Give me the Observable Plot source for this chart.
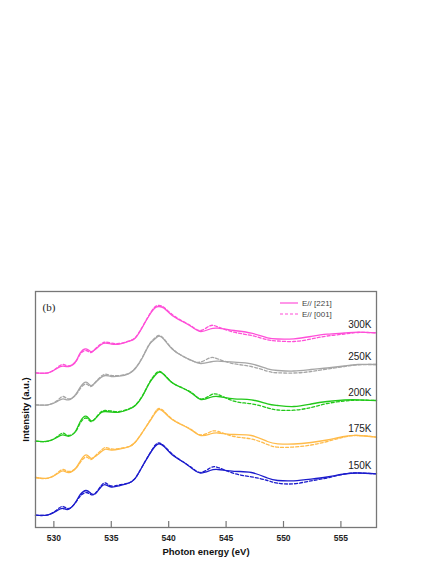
<!DOCTYPE html>
<html><head><meta charset="utf-8">
<script src="https://cdn.jsdelivr.net/npm/d3@7"></script>
<script src="https://cdn.jsdelivr.net/npm/@observablehq/plot@0.6"></script>
<style>
body{margin:0;background:#fff;}
#wrap{position:relative;width:436px;height:564px;}
#wrap svg{display:block;}
[aria-label="x-axis tick label"] text{font-weight:bold;font-size:8.5px;fill:#222;}
[aria-label="x-axis label"] text,[aria-label="y-axis label"] text{font-weight:bold;font-size:9.5px;fill:#111;}
#legend{position:absolute;left:280px;top:298px;font:8px "Liberation Sans",Arial,sans-serif;color:#444;}
#legend .row{display:flex;align-items:center;height:10.7px;}
#legend svg{margin-right:4px;}
</style></head><body><div id="wrap"></div>
<script>
const energy = [528.4,529.5,530.3,530.8,531.3,531.9,532.3,532.8,533.2,533.6,534.1,534.5,535.0,535.7,536.5,537.1,537.7,538.3,538.8,539.15,539.6,540.3,541.2,542.1,542.8,543.6,544.3,545.7,547.2,548.6,549.5,550.9,552.4,553.8,555.3,556.5,558.1];
const temps = ["150K","175K","200K","250K","300K"];
const tempColors = ["#1c1ccc","#ffbb4a","#22c81a","#a6a6a6","#ff4fd8"];
const polarizations = ["E// [221]","E// [001]"];
const xTicks = [530,535,540,545,550,555];

// intensity (a.u., vertically offset spectra)
const e221_150K = [12.3,12.7,17,19,18.3,25.5,33,37,34.3,33.7,40.5,42.7,40.5,41.7,44.3,49.3,61,72.7,81,83.7,81,72.7,66,58.5,54.5,57,58,56.2,55,49.5,47,46.7,48.3,50.5,53.5,54.5,53.7];
const e001_150K = [12.3,12.7,18,21,19,25,31.5,35,33,34,41.5,44.5,41.5,42.5,44.5,49.5,61,73,82,84.5,81.5,73.5,66,59,55,59.5,60,54,50.7,47,44.3,43.7,46.7,49.5,53.5,54.5,53.7];
const e221_175K = [50,49.3,53.7,56.7,55,59.3,66.5,72.7,69.3,71,75.5,78.3,77.5,78.3,80.5,85.5,95,105.3,114,118,115.3,108,102.5,96.5,92,93.5,94.5,93,92,86,83.7,83.5,85,87.5,91,92,90.3];
const e001_175K = [50,49.3,54.5,58,56,59,65,70.5,68,71.5,77,80,78.5,79,80.8,85.5,95,105.8,115,119,116,108.5,102.5,97,92.5,95.5,96,91,88.5,83,80.3,80.5,82.5,86,90.5,92,90.3];
const e221_200K = [86.3,86.3,90.3,92.7,91.3,96.5,106,111.3,107,108.7,114.7,116,115.5,115.3,118,122,131,144,152,155.3,152.7,144.7,139.5,133.5,128,130,131,128.7,127.7,123.7,122,121,123.5,126,127.5,127.7,127];
const e001_200K = [86.3,86.3,91,94.3,92,96,104.5,109.5,106,109,115.5,117,116.5,116,118.5,122.5,131.5,144.5,153,156,153,145,139.5,134,128.5,132,133,126.3,123.7,119.7,117.5,117.3,120,124,126.5,127.3,127];
const e221_250K = [122.7,122.7,126,128.7,127.7,133,140.3,145.3,142,144.7,150,152,151,151.3,153.7,159,169.5,182.7,188.5,191.3,188,178.5,171.5,166.5,164,165.5,166.3,165.3,163.7,158.7,157,156.5,158,159.5,161.5,163,163];
const e001_250K = [122.7,122.7,127,131,128.5,132.5,139,143.5,141,145,151,153.3,152,152,154,159.5,170,183,189.5,192,188.5,179,171.5,166.5,165.5,169.7,168.5,163.7,161,156.3,154.7,154.5,156,158.5,161,162.7,163];
const e221_300K = [154.7,154.7,159.3,161.3,161,166,174.7,178.7,176,178,182.7,184.3,183.5,183.3,186,189.5,200,212,219.5,221,219.3,212,206,200,196,198.5,199.3,197,194.3,189.7,188.5,188.7,191,193.3,194.5,195.3,194.7];
const e001_300K = [154.7,154.7,160,163,161.5,165.5,173.5,177,175,178.5,183.5,185.3,184.5,184,186.3,190,200.5,212.5,220.5,222,220,213,206.5,200.5,197,201.7,200.5,195.3,192,187.7,186.5,186,188.5,191.5,193.5,195,194.7];

const series = {
  "150K": [e221_150K, e001_150K],
  "175K": [e221_175K, e001_175K],
  "200K": [e221_200K, e001_200K],
  "250K": [e221_250K, e001_250K],
  "300K": [e221_300K, e001_300K]
};

const rows = [];
for (const t of temps) {
  series[t].forEach((vals, p) => {
    vals.forEach((v, i) => rows.push({temp: t, pol: polarizations[p], energy: energy[i], intensity: v}));
  });
}
const labelRows = temps.map(t => ({temp: t, energy: energy[energy.length - 1], intensity: series[t][0][energy.length - 1]}));

const chart = Plot.plot({
  width: 436, height: 564,
  marginTop: 291, marginBottom: 37, marginLeft: 35, marginRight: 60,
  style: {fontFamily: "'Liberation Sans', Arial, sans-serif", fontSize: "9px", background: "#fff"},
  x: {domain: [528.4, 558.1]},
  y: {domain: [0, 236]},
  color: {domain: temps, range: tempColors},
  marks: [
    Plot.line(rows.filter(d => d.pol === polarizations[0]), {x: "energy", y: "intensity", z: "temp", stroke: "temp", strokeWidth: 1.3, curve: "natural"}),
    Plot.line(rows.filter(d => d.pol === polarizations[1]), {x: "energy", y: "intensity", z: "temp", stroke: "temp", strokeWidth: 1.3, strokeDasharray: "3,2", curve: "natural"}),
    Plot.text(labelRows, {x: "energy", y: "intensity", text: "temp", textAnchor: "end", dx: -5, dy: -8, fontSize: 10, fill: "#222"}),
    Plot.text(["(b)"], {frameAnchor: "top-left", dx: 7, dy: 12, fontFamily: "'Liberation Serif', 'Times New Roman', serif", fontSize: 11, fill: "#222"}),
    Plot.tickX(xTicks, {x: d => d, stroke: "#777", strokeWidth: 1.2, insetTop: 230}),
    Plot.frame({stroke: "#777", strokeWidth: 1.3}),
    Plot.axisX(xTicks, {tickSize: 0, tickPadding: 7, label: "Photon energy (eV)", labelAnchor: "center", labelOffset: 27, labelArrow: "none"}),
    Plot.axisY([], {tickSize: 0, label: "Intensity (a.u.)", labelAnchor: "center", labelOffset: 13, labelArrow: "none"})
  ]
});
const wrap = document.getElementById("wrap");
wrap.appendChild(chart);

const legend = document.createElement("div");
legend.id = "legend";
legend.innerHTML = polarizations.map((p, i) =>
  `<div class="row"><svg width="18" height="6"><line x1="0" x2="18" y1="3" y2="3" stroke="${tempColors[4]}" stroke-width="1.2" ${i ? 'stroke-dasharray="3,2"' : ''}/></svg><span>${p}</span></div>`
).join("");
wrap.appendChild(legend);
</script></body></html>
